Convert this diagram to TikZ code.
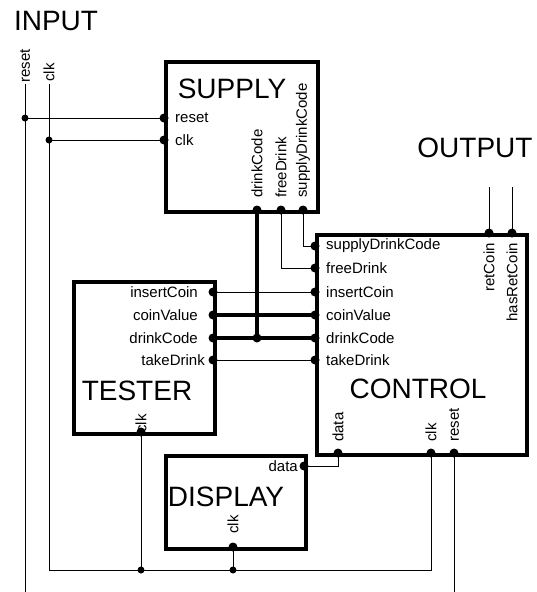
\documentclass[tikz,border=0pt]{standalone}
\usepackage{fontspec}
\setmainfont{Liberation Sans}
\begin{document}
\begin{tikzpicture}[
  x=1pt, y=-1pt,
  blk/.style={draw, line width=3.8pt, anchor=north west, inner sep=0pt},
  big/.style={font=\fontsize{28}{30}\selectfont, anchor=base, inner sep=0pt},
  lbl/.style={font=\fontsize{15}{17}\selectfont, inner sep=0pt},
  vlbl/.style={lbl, rotate=90},
  wire/.style={line width=0.9pt},
  bus/.style={line width=3.2pt},
  pdot/.style={circle, fill, inner sep=0pt, minimum size=9pt},
  jdot/.style={circle, fill, inner sep=0pt, minimum size=7pt}
]
\useasboundingbox (0,0) rectangle (537,592);

% ---------- titles ----------
\node[big] (inputlbl) at (56,30) {INPUT};
\node[big] (outputlbl) at (475,157) {OUTPUT};

% ---------- blocks ----------
\node[blk, minimum width=152pt, minimum height=150pt] (supply) at (164,60) {};
\node[blk, minimum width=141pt, minimum height=152pt] (tester) at (72,280) {};
\node[blk, minimum width=210pt, minimum height=220pt] (control) at (315,233) {};
\node[blk, minimum width=140pt, minimum height=93pt] (display) at (164,454) {};

\node[big] (supplylbl) at (232,98) {SUPPLY};
\node[big] (testerlbl) at (137,400) {TESTER};
\node[big] (controllbl) at (418,398) {CONTROL};
\node[big] (displaylbl) at (226,506) {DISPLAY};

% ---------- ports ----------
\coordinate (in-rst-top) at (25,84);
\coordinate (in-clk-top) at (49,84);
\coordinate (in-rst-bot) at (25,592);
\coordinate (sup-rst) at (164,118);
\coordinate (sup-clk) at (164,140);
\coordinate (sup-dc) at (257,210);
\coordinate (sup-fd) at (281,210);
\coordinate (sup-sdc) at (303,210);
\coordinate (tst-ic) at (213,292);
\coordinate (tst-cv) at (213,315);
\coordinate (tst-dc) at (213,338);
\coordinate (tst-td) at (213,360);
\coordinate (tst-clk) at (141,432);
\coordinate (ctl-sdc) at (315,246);
\coordinate (ctl-fd) at (315,268);
\coordinate (ctl-ic) at (315,292);
\coordinate (ctl-cv) at (315,315);
\coordinate (ctl-dc) at (315,338);
\coordinate (ctl-td) at (315,360);
\coordinate (ctl-rc) at (489,233);
\coordinate (ctl-hrc) at (512,233);
\coordinate (ctl-data) at (338,453);
\coordinate (ctl-clk) at (431,453);
\coordinate (ctl-rst) at (454,453);
\coordinate (dsp-data) at (304,466);
\coordinate (dsp-clk) at (233,547);
\coordinate (out-rc) at (489,187);
\coordinate (out-hrc) at (512,187);
\coordinate (ctl-rst-bot) at (454,592);
% junctions
\coordinate (j-rst) at (25,118);
\coordinate (j-clk) at (49,140);
\coordinate (j-dc) at (257,338);
\coordinate (j-tclk) at (141,570);
\coordinate (j-dclk) at (233,570);
\coordinate (clkbus-l) at (49,570);
\coordinate (clkbus-r) at (431,570);

% ---------- port labels ----------
\node[vlbl, anchor=west] (in-rst-l) at (25,83) {reset};
\node[vlbl, anchor=west] (in-clk-l) at (49,82) {clk};
\node[lbl, anchor=west] (sup-rst-l) at (175,118) {reset};
\node[lbl, anchor=west] (sup-clk-l) at (175,140) {clk};
\node[vlbl, anchor=west] (sup-dc-l) at (257,198) {drinkCode};
\node[vlbl, anchor=west] (sup-fd-l) at (281,198) {freeDrink};
\node[vlbl, anchor=west] (sup-sdc-l) at (303,198) {supplyDrinkCode};

\node[lbl, anchor=east] (tst-ic-l) at (198,292) {insertCoin};
\node[lbl, anchor=east] (tst-cv-l) at (198,315) {coinValue};
\node[lbl, anchor=east] (tst-dc-l) at (198,338) {drinkCode};
\node[lbl, anchor=east] (tst-td-l) at (205,360) {takeDrink};
\node[vlbl, anchor=west] (tst-clk-l) at (141,433) {clk};

\node[lbl, anchor=west] (ctl-sdc-l) at (326,246) {supplyDrinkCode};
\node[lbl, anchor=west] (ctl-fd-l) at (326,268) {freeDrink};
\node[lbl, anchor=west] (ctl-ic-l) at (326,292) {insertCoin};
\node[lbl, anchor=west] (ctl-cv-l) at (326,315) {coinValue};
\node[lbl, anchor=west] (ctl-dc-l) at (326,338) {drinkCode};
\node[lbl, anchor=west] (ctl-td-l) at (326,360) {takeDrink};
\node[vlbl, anchor=east] (ctl-rc-l) at (489,243) {retCoin};
\node[vlbl, anchor=east] (ctl-hrc-l) at (512,243) {hasRetCoin};
\node[vlbl, anchor=west] (ctl-data-l) at (338,442) {data};
\node[vlbl, anchor=west] (ctl-clk-l) at (431,442) {clk};
\node[vlbl, anchor=west] (ctl-rst-l) at (454,442) {reset};

\node[lbl, anchor=east] (dsp-data-l) at (298,466) {data};
\node[vlbl, anchor=west] (dsp-clk-l) at (233,534) {clk};

% ---------- wires ----------
\draw[wire] (in-rst-top) -- (in-rst-bot);
\draw[wire] (in-clk-top) -- (clkbus-l) -- (clkbus-r) -- (ctl-clk);
\draw[wire] (j-rst) -- (sup-rst);
\draw[wire] (j-clk) -- (sup-clk);
\draw[bus] (sup-dc) -- (j-dc);
\draw[wire] (sup-fd) |- (ctl-fd);
\draw[wire] (sup-sdc) |- (ctl-sdc);
\draw[wire] (tst-ic) -- (ctl-ic);
\draw[bus] (tst-cv) -- (ctl-cv);
\draw[bus] (tst-dc) -- (ctl-dc);
\draw[wire] (tst-td) -- (ctl-td);
\draw[wire] (ctl-rc) -- (out-rc);
\draw[wire] (ctl-hrc) -- (out-hrc);
\draw[wire] (tst-clk) -- (j-tclk);
\draw[wire] (dsp-clk) -- (j-dclk);
\draw[wire] (dsp-data) -| (ctl-data);
\draw[wire] (ctl-rst) -- (ctl-rst-bot);

% ---------- dots ----------
\foreach \p in {sup-rst,sup-clk,sup-dc,sup-fd,sup-sdc,tst-ic,tst-cv,tst-dc,tst-td,tst-clk,
  ctl-sdc,ctl-fd,ctl-ic,ctl-cv,ctl-dc,ctl-td,ctl-rc,ctl-hrc,ctl-data,ctl-clk,ctl-rst,
  dsp-data,dsp-clk,j-dc}
  \node[pdot] (d-\p) at (\p) {};
\foreach \p in {j-rst,j-clk,j-tclk,j-dclk}
  \node[jdot] (d-\p) at (\p) {};

\end{tikzpicture}
\end{document}
